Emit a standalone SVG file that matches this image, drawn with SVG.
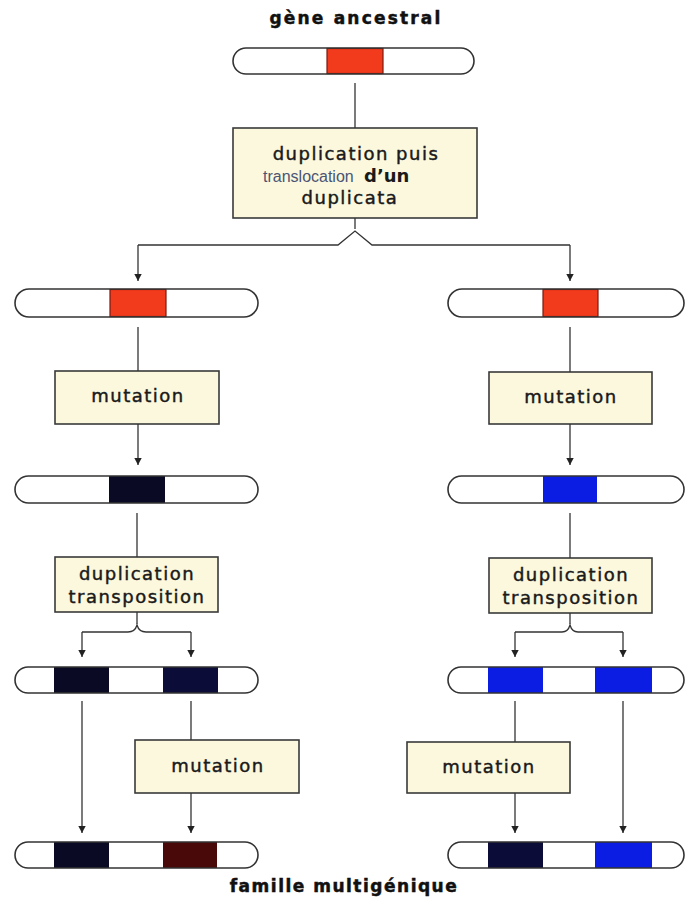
<svg xmlns="http://www.w3.org/2000/svg" width="686" height="901" viewBox="0 0 686 901">
<defs>
<style>
.bg{fill:#ffffff}
.pill{fill:#ffffff;stroke:none}
.pillo{fill:none;stroke:#333;stroke-width:1.6}
.box{fill:#fbf8de;stroke:#3a3a3a;stroke-width:1.6}
.con{fill:none;stroke:#333;stroke-width:1.3}
.arr{fill:none;stroke:#333;stroke-width:1.3;marker-end:url(#ah)}
.lbl{font-family:"DejaVu Sans",sans-serif;font-size:18px;fill:#1a1a1a;stroke:#1a1a1a;stroke-width:0.45;letter-spacing:1.5px;text-anchor:middle}
.title{font-family:"DejaVu Sans",sans-serif;font-weight:bold;font-size:17px;fill:#111;stroke:#111;stroke-width:0.5;text-anchor:middle}
.red{fill:#f23b1c;stroke:#7a1a10;stroke-width:1.2}
.navy{fill:#0a0a24}
.navy2{fill:#0c0c38}
.blue{fill:#0b1de2}
.dred{fill:#4a0909}
</style>
<marker id="ah" viewBox="0 0 7 11" refX="7" refY="5.5" markerWidth="7" markerHeight="11" markerUnits="userSpaceOnUse" orient="auto">
<path d="M0,1.8 L7,5.5 L0,9.2 Z" fill="#222"/>
</marker>
</defs>
<rect class="bg" x="0" y="0" width="686" height="901"/>

<text id="title-top" class="title" x="356" y="24" style="letter-spacing:2.2px">gène ancestral</text>

<g id="chr-ancestral">
<rect class="pill" x="233" y="48" width="241" height="26" rx="13"/>
<rect class="red" x="327" y="48.5" width="56" height="25"/>
<rect class="pillo" x="233" y="48" width="241" height="26" rx="13"/>
</g>

<g id="box-dup-trans">
<rect class="box" x="233" y="128" width="244" height="90"/>
<text class="lbl" x="356" y="160">duplication puis</text>
<text x="263" y="182" style="font-family:'Liberation Sans',sans-serif;font-size:16px;fill:#4c5474">translocation</text>
<text x="364" y="182" style="font-family:'DejaVu Sans',sans-serif;font-weight:bold;font-size:18px;fill:#1a1a1a">d’un</text>
<text class="lbl" x="350" y="204">duplicata</text>
</g>

<g id="chr-L1">
<rect class="pill" x="15" y="289" width="243" height="28" rx="14"/>
<rect class="red" x="110" y="289.5" width="56" height="27"/>
<rect class="pillo" x="15" y="289" width="243" height="28" rx="14"/>
</g>
<g id="chr-R1">
<rect class="pill" x="448" y="289" width="236" height="28" rx="14"/>
<rect class="red" x="543" y="289.5" width="55" height="27"/>
<rect class="pillo" x="448" y="289" width="236" height="28" rx="14"/>
</g>

<g id="box-mut-L1">
<rect class="box" x="55" y="371" width="164" height="53"/>
<text class="lbl" x="138" y="402">mutation</text>
</g>
<g id="box-mut-R1">
<rect class="box" x="489" y="372" width="163" height="52"/>
<text class="lbl" x="571" y="403">mutation</text>
</g>

<g id="chr-L2">
<rect class="pill" x="15" y="476" width="243" height="27" rx="13.5"/>
<rect class="navy" x="109" y="476" width="56" height="27"/>
<rect class="pillo" x="15" y="476" width="243" height="27" rx="13.5"/>
</g>
<g id="chr-R2">
<rect class="pill" x="448" y="476" width="236" height="27" rx="13.5"/>
<rect class="blue" x="543" y="476" width="54" height="27"/>
<rect class="pillo" x="448" y="476" width="236" height="27" rx="13.5"/>
</g>

<g id="box-dup-L">
<rect class="box" x="55" y="557" width="163" height="55"/>
<text class="lbl" x="137" y="580">duplication</text>
<text class="lbl" x="137" y="603">transposition</text>
</g>
<g id="box-dup-R">
<rect class="box" x="489" y="558" width="163" height="55"/>
<text class="lbl" x="571" y="581">duplication</text>
<text class="lbl" x="571" y="604">transposition</text>
</g>

<g id="chr-L3">
<rect class="pill" x="15" y="667" width="243" height="26" rx="13"/>
<rect class="navy" x="54" y="667" width="55" height="26"/>
<rect class="navy2" x="163" y="667" width="55" height="26"/>
<rect class="pillo" x="15" y="667" width="243" height="26" rx="13"/>
</g>
<g id="chr-R3">
<rect class="pill" x="448" y="667" width="236" height="26" rx="13"/>
<rect class="blue" x="488" y="667" width="55" height="26"/>
<rect class="blue" x="595" y="667" width="57" height="26"/>
<rect class="pillo" x="448" y="667" width="236" height="26" rx="13"/>
</g>

<g id="box-mut-L2">
<rect class="box" x="135" y="740" width="164" height="53"/>
<text class="lbl" x="218" y="772">mutation</text>
</g>
<g id="box-mut-R2">
<rect class="box" x="407" y="742" width="163" height="51"/>
<text class="lbl" x="489" y="773">mutation</text>
</g>

<g id="chr-L4">
<rect class="pill" x="15" y="842" width="243" height="26" rx="13"/>
<rect class="navy" x="54" y="842" width="55" height="26"/>
<rect class="dred" x="163" y="842" width="54" height="26"/>
<rect class="pillo" x="15" y="842" width="243" height="26" rx="13"/>
</g>
<g id="chr-R4">
<rect class="pill" x="448" y="842" width="236" height="26" rx="13"/>
<rect class="navy2" x="488" y="842" width="55" height="26"/>
<rect class="blue" x="595" y="842" width="57" height="26"/>
<rect class="pillo" x="448" y="842" width="236" height="26" rx="13"/>
</g>

<text id="title-bottom" class="title" x="344" y="892" style="letter-spacing:1.5px">famille multigénique</text>

<g id="connectors">
<line class="con" x1="355" y1="83" x2="355" y2="128"/>
<line class="con" x1="355" y1="218" x2="355" y2="229"/>
<path class="con" d="M138,245 H338 L355,231 L372,245 H570"/>
<line class="arr" x1="138" y1="245" x2="138" y2="281"/>
<line class="arr" x1="570" y1="245" x2="570" y2="281"/>
<line class="con" x1="138" y1="327" x2="138" y2="371"/>
<line class="con" x1="570" y1="327" x2="570" y2="372"/>
<line class="arr" x1="138" y1="424" x2="138" y2="465"/>
<line class="arr" x1="570" y1="424" x2="570" y2="465"/>
<line class="con" x1="137" y1="513" x2="137" y2="557"/>
<line class="con" x1="570" y1="513" x2="570" y2="558"/>
<line class="con" x1="137" y1="612" x2="137" y2="624"/>
<path class="con" d="M82,632 H128 Q135,632 137,625 Q139,632 146,632 H191"/>
<line class="arr" x1="82" y1="632" x2="82" y2="657"/>
<line class="arr" x1="191" y1="632" x2="191" y2="657"/>
<line class="con" x1="570" y1="613" x2="570" y2="624"/>
<path class="con" d="M515,632 H562 Q568,632 570,625 Q572,632 578,632 H623"/>
<line class="arr" x1="515" y1="632" x2="515" y2="657"/>
<line class="arr" x1="623" y1="632" x2="623" y2="657"/>
<line class="arr" x1="82" y1="701" x2="82" y2="833"/>
<line class="con" x1="191" y1="701" x2="191" y2="740"/>
<line class="arr" x1="191" y1="793" x2="191" y2="833"/>
<line class="con" x1="515" y1="701" x2="515" y2="742"/>
<line class="arr" x1="515" y1="793" x2="515" y2="833"/>
<line class="arr" x1="623" y1="701" x2="623" y2="833"/>
</g>
</svg>
